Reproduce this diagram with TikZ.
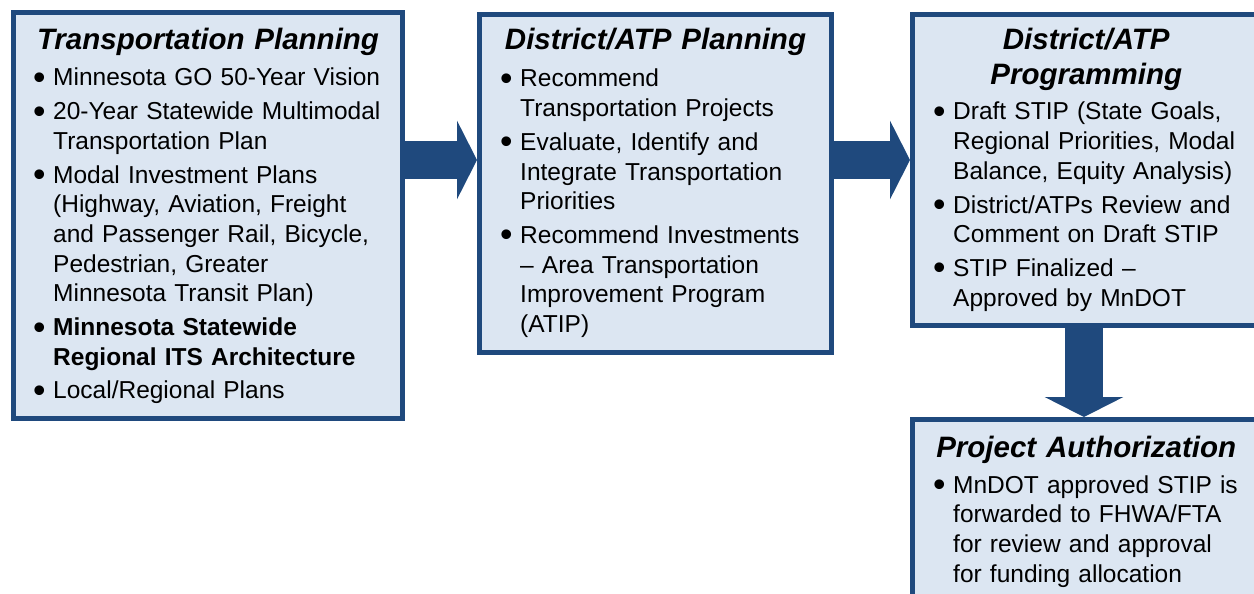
\documentclass[tikz,border=0pt]{standalone}
\usepackage{fontspec}
\usepackage{graphicx}
\setmainfont{Liberation Sans}
\usetikzlibrary{arrows.meta,calc}

\definecolor{mndblue}{RGB}{31,73,125}
\definecolor{mndfill}{RGB}{220,230,242}

\newcommand\headfont{\fontsize{29.5}{35}\selectfont\bfseries\itshape}
\newcommand\listfont{\fontsize{24.5}{29.7}\selectfont}
\newcommand\dotmark{\makebox[20pt][l]{\raisebox{-3.5pt}{\scalebox{1.45}{\textbullet}}}}
\newcommand\pitem[1]{\listfont\parskip=4pt\relax\hangindent=20pt\hangafter=1\noindent\dotmark#1\par}

\tikzset{
	stagebox/.style={draw=mndblue, fill=mndfill, line width=5pt, inner sep=0pt, anchor=north west},
	stagehead/.style={font=\headfont, text width=#1, align=center, anchor=base, inner sep=0pt},
	stagelist/.style={font=\listfont, text width=420pt, align=left, anchor=base west, inner sep=0pt},
	flow/.style={draw=mndblue, line width=38pt, line cap=butt, -{Triangle[length=20pt,width=78pt]}}}

\begin{document}
\begin{tikzpicture}[x=1pt,y=1pt,yscale=-1]
	\useasboundingbox (0,0) rectangle (1254,594);

	%Boxes
	\node[stagebox, minimum width=389pt, minimum height=406pt] (plan) at (11,10) {};
	\node[stagebox, minimum width=352pt, minimum height=338pt] (dist) at (477,12) {};
	\node[stagebox, minimum width=347.5pt, minimum height=311pt] (prog) at (910,12) {};
	\node[stagebox, minimum width=347.5pt, minimum height=200pt] (auth) at (910,417) {};

	%Arrows
	\coordinate (row) at (0,160);
	\coordinate (col) at (1084,0);
	\draw[flow] (plan.east |- row) -- (dist.west |- row);
	\draw[flow] (dist.east |- row) -- (prog.west |- row);
	\draw[flow] (prog.south -| col) -- (auth.north -| col);

	%Headings
	\node[stagehead=394pt] (planhead) at ($(plan.north)+(0,40)$) {Transportation Planning};
	\node[stagehead=357pt] (disthead) at ($(dist.north)+(0,38)$) {District/ATP Planning};
	\node[stagehead=352pt] (proghead) at ($(prog.north)+(0,38)$) {District/ATP\\Programming};
	\node[stagehead=352pt] (authhead) at ($(auth.north)+(0,40)$) {Project Authorization};

	%Lists
	\node[stagelist] (planlist) at ($(plan.north west)+(22,76)$) {%
		\pitem{Minnesota GO 50-Year Vision}
		\pitem{20-Year Statewide Multimodal\newline Transportation Plan}
		\pitem{Modal Investment Plans\newline (Highway, Aviation, Freight\newline and Passenger Rail, Bicycle,\newline Pedestrian, Greater\newline Minnesota Transit Plan)}
		\pitem{\textbf{Minnesota Statewide\newline Regional ITS Architecture}}
		\pitem{Local/Regional Plans}};
	\node[stagelist] (distlist) at ($(dist.north west)+(23,75)$) {%
		\pitem{Recommend\newline Transportation Projects}
		\pitem{Evaluate, Identify and\newline Integrate Transportation\newline Priorities}
		\pitem{Recommend Investments\newline \textendash{} Area Transportation\newline Improvement Program\newline (ATIP)}};
	\node[stagelist] (proglist) at ($(prog.north west)+(23,108)$) {%
		\pitem{Draft STIP (State Goals,\newline Regional Priorities, Modal\newline Balance, Equity Analysis)}
		\pitem{District/ATPs Review and\newline Comment on Draft STIP}
		\pitem{STIP Finalized \textendash\newline Approved by MnDOT}};
	\node[stagelist] (authlist) at ($(auth.north west)+(23,76)$) {%
		\pitem{MnDOT approved STIP is\newline forwarded to FHWA/FTA\newline for review and approval\newline for funding allocation}};

\end{tikzpicture}
\end{document}
